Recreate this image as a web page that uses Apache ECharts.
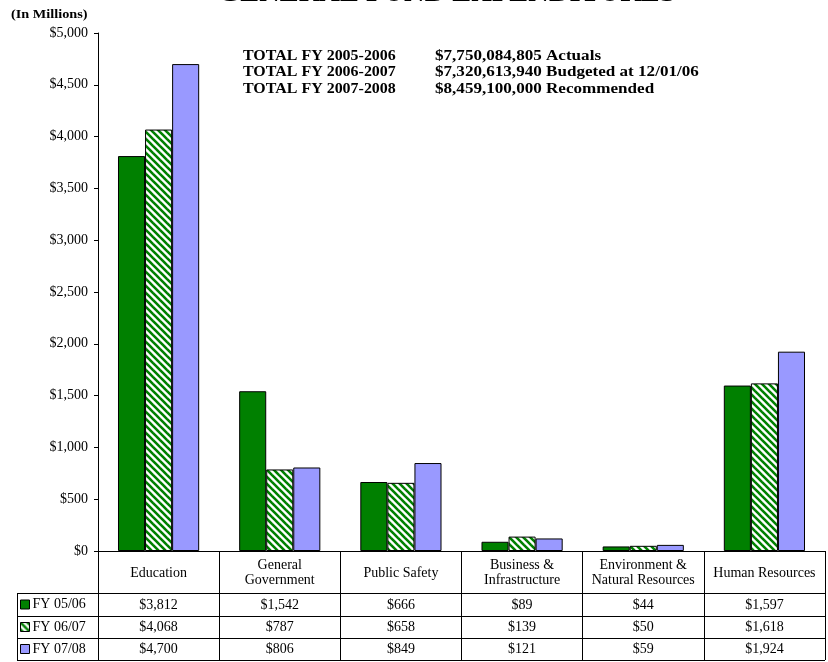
<!DOCTYPE html>
<html>
<head>
<meta charset="utf-8">
<script src="https://cdn.jsdelivr.net/npm/echarts@6/dist/echarts.min.js"></script>
<style>
  html, body { margin: 0; padding: 0; background: #fff; }
  #chart { width: 828px; height: 662px; }
</style>
</head>
<body>
<div id="chart"></div>
<script>
  // data (millions)
  var categories = ['Education', 'General\nGovernment', 'Public Safety', 'Business &\nInfrastructure', 'Environment &\nNatural Resources', 'Human Resources'];
  var seriesNames = ['FY 05/06', 'FY 06/07', 'FY 07/08'];
  var fy0506 = [3812, 1542, 666, 89, 44, 1597];
  var fy0607 = [4068, 787, 658, 139, 50, 1618];
  var fy0708 = [4700, 806, 849, 121, 59, 1924];
  var totalLabels = ['TOTAL FY 2005-2006', 'TOTAL FY 2006-2007', 'TOTAL FY 2007-2008'];
  var totalValues = ['$7,750,084,805 Actuals', '$7,320,613,940 Budgeted at 12/01/06', '$8,459,100,000 Recommended'];

  var FONT = 'Liberation Serif';
  var GREEN = '#008000';
  var BLUE = '#9999ff';

  function money(v) {
    return '$' + Number(v).toLocaleString('en-US');
  }

  // green diagonal stripes on white
  function hatchCanvas() {
    var c = document.createElement('canvas');
    c.width = 7; c.height = 7;
    var ctx = c.getContext('2d');
    ctx.fillStyle = '#fff';
    ctx.fillRect(0, 0, 7, 7);
    ctx.strokeStyle = GREEN;
    ctx.lineWidth = 2.6;
    [-7, 0, 7].forEach(function (o) {
      ctx.beginPath();
      ctx.moveTo(o - 1, -1);
      ctx.lineTo(o + 8, 8);
      ctx.stroke();
    });
    return c;
  }

  var rows = [fy0506, fy0607, fy0708];
  var fills = [GREEN, { image: hatchCanvas(), repeat: 'repeat' }, BLUE];

  // table row axes (values shown as axis labels)
  var rowOffsets = [42, 65, 87];
  var rowMargins = [12, 11.5, 11.5];
  var xAxes = [{
    type: 'category',
    data: categories,
    gridIndex: 0,
    position: 'bottom',
    axisLine: { lineStyle: { color: '#000', width: 1 } },
    axisTick: { show: true, length: 109, lineStyle: { color: '#000' } },
    axisLabel: {
      interval: 0, margin: 22, verticalAlign: 'middle',
      color: '#000', fontFamily: FONT, fontSize: 14, lineHeight: 15
    }
  }];
  rows.forEach(function (r, i) {
    xAxes.push({
      type: 'category',
      data: categories,
      gridIndex: 0,
      position: 'bottom',
      offset: rowOffsets[i],
      axisLine: { show: false },
      axisTick: { show: false },
      axisLabel: {
        interval: 0, margin: rowMargins[i], verticalAlign: 'middle',
        color: '#000', fontFamily: FONT, fontSize: 14,
        formatter: function (v, idx) { return money(r[idx]); }
      }
    });
  });

  var series = rows.map(function (r, i) {
    return {
      name: seriesNames[i],
      type: 'bar',
      xAxisIndex: 0,
      data: r,
      barGap: '0%',
      barCategoryGap: '33%',
      itemStyle: { color: fills[i], borderColor: '#000', borderWidth: 1 }
    };
  });

  var legends = seriesNames.map(function (n, i) {
    return {
      data: [n],
      left: 20,
      top: [597.5, 620, 642][i],
      padding: 0,
      icon: 'rect',
      itemWidth: 9,
      itemHeight: 9,
      itemStyle: { borderColor: '#000', borderWidth: 1 },
      textStyle: { fontFamily: FONT, fontSize: 14, color: '#000', padding: [0, 0, 0, -2] },
      selectedMode: false
    };
  });

  var graphics = [
    {
      type: 'text', left: 218, top: -21,
      style: { text: 'GENERAL FUND EXPENDITURES', fontFamily: FONT, fontWeight: 'bold', fontSize: 28.5, fill: '#000' }
    },
    {
      type: 'text', left: 11, top: 9, scaleX: 1.19,
      style: { text: '(In Millions)', fontFamily: FONT, fontWeight: 'bold', fontSize: 12, fill: '#000' }
    }
  ];
  totalLabels.forEach(function (t, i) {
    graphics.push({
      type: 'text', left: 243, top: 49 + i * 16.5, scaleX: 1.14,
      style: { text: t, fontFamily: FONT, fontWeight: 'bold', fontSize: 14, fill: '#000' }
    });
    graphics.push({
      type: 'text', left: 435, top: 49 + i * 16.5, scaleX: 1.22,
      style: { text: totalValues[i], fontFamily: FONT, fontWeight: 'bold', fontSize: 14, fill: '#000' }
    });
  });
  // table rules
  [593, 616, 638, 660].forEach(function (y) {
    graphics.push({ type: 'line', shape: { x1: 17, y1: y + 0.5, x2: 825, y2: y + 0.5 }, style: { stroke: '#000', lineWidth: 1 } });
  });
  graphics.push({ type: 'line', shape: { x1: 17.5, y1: 593, x2: 17.5, y2: 661 }, style: { stroke: '#000', lineWidth: 1 } });

  var chart = echarts.init(document.getElementById('chart'));
  chart.setOption({
    animation: false,
    backgroundColor: '#fff',
    grid: { left: 98, right: 3, top: 33, bottom: 111, containLabel: false },
    legend: legends,
    xAxis: xAxes,
    yAxis: {
      type: 'value',
      min: 0,
      max: 5000,
      interval: 500,
      axisLine: { show: true, lineStyle: { color: '#000' } },
      axisTick: { show: true, length: 4, lineStyle: { color: '#000' } },
      splitLine: { show: false },
      axisLabel: {
        margin: 10, color: '#000', fontFamily: FONT, fontSize: 14,
        formatter: function (v) { return money(v); }
      }
    },
    series: series,
    graphic: graphics
  });
</script>
</body>
</html>
